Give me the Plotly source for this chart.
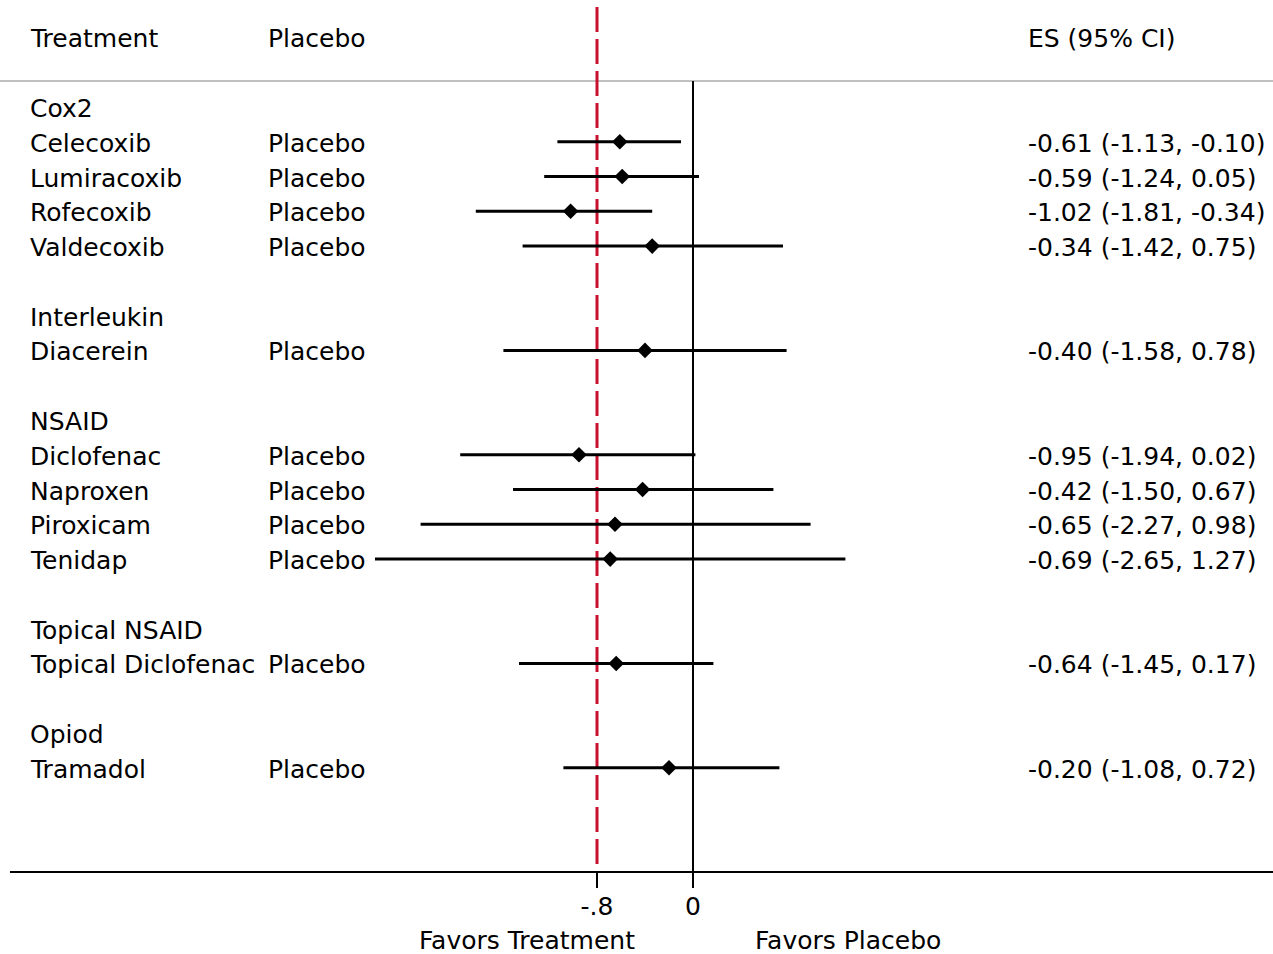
import plotly.graph_objects as go

# Forest plot: effect sizes (95% CI) of treatments versus placebo, grouped by drug class
groups = ["Cox2", "Interleukin", "NSAID", "Topical NSAID", "Opiod"]
group_members = [
    ["Celecoxib", "Lumiracoxib", "Rofecoxib", "Valdecoxib"],
    ["Diacerein"],
    ["Diclofenac", "Naproxen", "Piroxicam", "Tenidap"],
    ["Topical Diclofenac"],
    ["Tramadol"],
]
comparator = "Placebo"
es = [-0.61, -0.59, -1.02, -0.34, -0.40, -0.95, -0.42, -0.65, -0.69, -0.64, -0.20]
ci_low = [-1.13, -1.24, -1.81, -1.42, -1.58, -1.94, -1.50, -2.27, -2.65, -1.45, -1.08]
ci_high = [-0.10, 0.05, -0.34, 0.75, 0.78, 0.02, 0.67, 0.98, 1.27, 0.17, 0.72]
ref_line = -0.8
tick_vals = [-0.8, 0]
tick_text = ["-.8", "0"]

FONT = "DejaVu Sans, Liberation Sans, Arial, sans-serif"
FS = 25
RED = "#c8102e"

# Page geometry: 120 px per unit on x, rows 34.78 px apart on y
W, H = 1273, 954
X0_PX, PX_PER_UNIT = 693, 120.0
ROW0_PX, ROW_PX = 37.4, 34.78


def xd(px):
    return (px - X0_PX) / PX_PER_UNIT


def yd(px):
    return (px - ROW0_PX) / ROW_PX


# Row layout: header on row 0, then each class label followed by its studies
label_rows, study_rows, study_names = [], [], []
r = 2
for g, members in zip(groups, group_members):
    label_rows.append(r)
    for k, m in enumerate(members):
        study_rows.append(r + 1 + k)
        study_names.append(m)
    r += len(members) + 2
axis_row = 24

fig = go.Figure()

# Confidence intervals
cx, cy = [], []
for lo, hi, row in zip(ci_low, ci_high, study_rows):
    cx += [lo, hi, None]
    cy += [row, row, None]
fig.add_trace(go.Scatter(x=cx, y=cy, mode="lines",
                         line=dict(color="black", width=3),
                         hoverinfo="skip", showlegend=False))

# Point estimates
fig.add_trace(go.Scatter(x=es, y=study_rows, mode="markers",
                         marker=dict(symbol="diamond", size=12, color="black"),
                         hoverinfo="skip", showlegend=False))

shapes = [
    # rule under the header
    dict(type="line", xref="paper", yref="y", x0=0, x1=1,
         y0=yd(81), y1=yd(81), line=dict(color="#c0c0c0", width=2), layer="below"),
    # line of no effect
    dict(type="line", xref="x", yref="y", x0=0, x1=0,
         y0=yd(81), y1=axis_row, line=dict(color="black", width=2), layer="below"),
    # reference line
    dict(type="line", xref="x", yref="y", x0=ref_line, x1=ref_line,
         y0=yd(7), y1=axis_row, line=dict(color=RED, width=3, dash="25px,7px"),
         layer="below"),
]

annotations = []
TEXT_SHIFT = 1.5  # px, nudges text baselines down


def add_text(x, y, text, anchor="left"):
    annotations.append(dict(x=x, y=y + TEXT_SHIFT / ROW_PX, xref="x", yref="y",
                            text=text, showarrow=False,
                            xanchor=anchor, yanchor="middle",
                            font=dict(family=FONT, size=FS, color="black")))


X_NAME, X_COMP, X_ES = xd(28), xd(266), xd(1026)

add_text(X_NAME, 0, "Treatment")
add_text(X_COMP, 0, comparator)
add_text(X_ES, 0, "ES (95% CI)")

for g, row in zip(groups, label_rows):
    add_text(X_NAME, row, g)

for name, row, e, lo, hi in zip(study_names, study_rows, es, ci_low, ci_high):
    add_text(X_NAME, row, name)
    add_text(X_COMP, row, comparator)
    add_text(X_ES, row, f"{e:.2f} ({lo:.2f}, {hi:.2f})")

add_text(xd(527), yd(939), "Favors Treatment", anchor="center")
add_text(xd(848), yd(939), "Favors Placebo", anchor="center")

fig.update_layout(
    width=W, height=H,
    margin=dict(l=0, r=0, t=0, b=0),
    paper_bgcolor="white", plot_bgcolor="white",
    showlegend=False,
    shapes=shapes,
    annotations=annotations,
    xaxis=dict(
        domain=[10 / W, 1],
        range=[xd(10), xd(W)],
        anchor="free", position=1 - 872 / H,
        showline=True, linecolor="black", linewidth=2,
        ticks="outside", ticklen=15, tickwidth=2, tickcolor="black",
        tickvals=tick_vals, ticktext=tick_text,
        tickfont=dict(family=FONT, size=FS, color="black"),
        ticklabelstandoff=-3,
        showgrid=False, zeroline=False, fixedrange=True,
    ),
    yaxis=dict(
        domain=[0, 1],
        range=[yd(H), yd(0)],
        visible=False, showgrid=False, zeroline=False, fixedrange=True,
    ),
)

fig.write_html("out.html")
